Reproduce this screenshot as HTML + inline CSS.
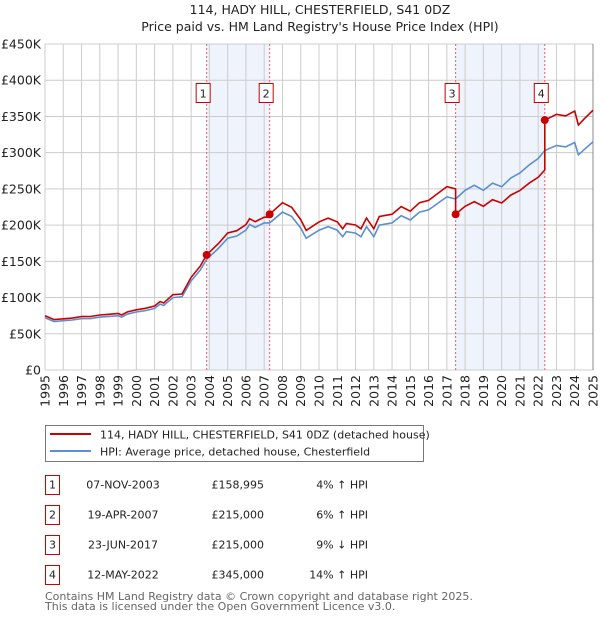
<!DOCTYPE html>
<html><head><meta charset="utf-8">
<style>
body{margin:0;background:#fff;font-family:"Liberation Sans","DejaVu Sans",sans-serif;}
svg text{font-family:"DejaVu Sans","Liberation Sans",sans-serif;}
</style></head>
<body>
<svg id="chart" width="600" height="620" viewBox="0 0 600 620" xmlns="http://www.w3.org/2000/svg">
<text x="320" y="14" font-size="12.5" text-anchor="middle" fill="#222">114, HADY HILL, CHESTERFIELD, S41 0DZ</text>
<text x="320" y="31" font-size="12.5" text-anchor="middle" fill="#222">Price paid vs. HM Land Registry's House Price Index (HPI)</text>
<g id="plot"></g>
<g>
<rect x="45.5" y="425.5" width="378" height="36" fill="#fff" stroke="#777"/>
<line x1="50" y1="434" x2="91" y2="434" stroke="#cc0000" stroke-width="2"/>
<text x="100" y="438.5" font-size="11" fill="#222">114, HADY HILL, CHESTERFIELD, S41 0DZ (detached house)</text>
<line x1="50" y1="451" x2="91" y2="451" stroke="#5b8fd0" stroke-width="2"/>
<text x="100" y="455.5" font-size="11" fill="#222">HPI: Average price, detached house, Chesterfield</text>
</g>
<g id="table" font-size="11" fill="#222"></g>
<text x="45" y="600" font-size="11" fill="#666">Contains HM Land Registry data © Crown copyright and database right 2025.</text>
<text x="45" y="610" font-size="11" fill="#666">This data is licensed under the Open Government Licence v3.0.</text>
</svg>
<script>
const hpiYears=[1995,1995.5,1996,1996.5,1997,1997.5,1998,1998.5,1999,1999.2,1999.5,2000,2000.5,2001,2001.3,2001.5,2002,2002.5,2003,2003.5,2003.85,2004.5,2005,2005.5,2006,2006.2,2006.5,2007,2007.3,2008,2008.5,2009,2009.3,2010,2010.5,2011,2011.3,2011.5,2012,2012.3,2012.6,2013,2013.3,2014,2014.5,2015,2015.5,2016,2016.5,2017,2017.48,2018,2018.5,2019,2019.5,2020,2020.5,2021,2021.5,2022,2022.36,2023,2023.5,2024,2024.2,2024.5,2025];
const hpiValues=[72,67,68,69,71,71,73,74,75,73,77,80,82,85,91,89,92,100,103,123,153,168,182,185,193,201,197,203,203,218,212,196,182,193,198,193,184,191,189,184,198,184,200,203,213,207,218,221,230,239,236,248,255,248,258,253,265,272,283,292,303,310,308,314,297,304,315];
hpiValues[18]=123;hpiValues[19]=138;hpiValues[17]=101;hpiValues[16]=100;
const saleDates=[2003.85,2007.3,2017.48,2022.36];
const salePrices=[158.995,215,215,345];
const saleLabels=["1","2","3","4"];
const saleDateText=["07-NOV-2003","19-APR-2007","23-JUN-2017","12-MAY-2022"];
const salePriceText=["£158,995","£215,000","£215,000","£345,000"];
const saleHpiText=["4% ↑ HPI","6% ↑ HPI","9% ↓ HPI","14% ↑ HPI"];
const yTicks=[0,50,100,150,200,250,300,350,400,450];
const yTickLabels=["£0","£50K","£100K","£150K","£200K","£250K","£300K","£350K","£400K","£450K"];
const xTicks=[1995,1996,1997,1998,1999,2000,2001,2002,2003,2004,2005,2006,2007,2008,2009,2010,2011,2012,2013,2014,2015,2016,2017,2018,2019,2020,2021,2022,2023,2024,2025];

const NS="http://www.w3.org/2000/svg";
const L=45,R=593,T=44,B=370;
const X=y=>L+(y-1995)/30*(R-L);
const Y=v=>B-v/450*(B-T);
function mk(tag,attrs,parent){const e=document.createElementNS(NS,tag);for(const k in attrs)e.setAttribute(k,attrs[k]);parent.appendChild(e);return e;}
const g=document.getElementById('plot');
function hpiAt(t){for(let i=0;i<hpiYears.length-1;i++){if(t<=hpiYears[i+1]){const f=(t-hpiYears[i])/(hpiYears[i+1]-hpiYears[i]);return hpiValues[i]+f*(hpiValues[i+1]-hpiValues[i]);}}return hpiValues[hpiValues.length-1];}
for(let i=0;i<saleDates.length;i+=2){
 const r=mk('rect',{x:X(saleDates[i]),y:T,width:X(saleDates[i+1])-X(saleDates[i]),height:B-T,fill:'#eef3fc'},g);
 
 
}
yTicks.forEach((v,i)=>{
 const l=mk('line',{x1:L,x2:R,y1:Y(v),y2:Y(v),stroke:'#ccc','stroke-width':1},g);
 
 
 const t=mk('text',{x:L-4,y:Y(v)+4.5,'font-size':12.5,'text-anchor':'end',fill:'#222'},g);
 
 
 t.textContent=yTickLabels[i];
});
xTicks.forEach(y=>{
 const l=mk('line',{x1:X(y),x2:X(y),y1:T,y2:B,stroke:'#ccc','stroke-width':1},g);
 
 
 const t=mk('text',{x:0,y:0,'font-size':12.5,'text-anchor':'end',fill:'#222',transform:`translate(${X(y)+4.5},${B+5}) rotate(-90)`},g);
 
 
 t.textContent=y;
});
const rb=mk('line',{x1:R,x2:R,y1:T,y2:B,stroke:'#888','stroke-width':1},g);


saleDates.forEach((d,i)=>{
 const l=mk('line',{x1:X(d),x2:X(d),y1:T,y2:B,stroke:'#e06070','stroke-width':1,'stroke-dasharray':'2,2'},g);
 
 
});
let hp=hpiYears.map((y,i)=>X(y).toFixed(1)+','+Y(hpiValues[i]).toFixed(1)).join(' ');
const hl=mk('polyline',{points:hp,fill:'none',stroke:'#5b8fd0','stroke-width':1.6},g);


const ratios=saleDates.map((d,i)=>salePrices[i]/hpiAt(d));
function redAt(t){let k=0;for(let i=0;i<saleDates.length;i++)if(t>=saleDates[i])k=i;return hpiAt(t)*ratios[k];}
let pts=[];
let times=hpiYears.slice();
saleDates.forEach(d=>{times.push(d-0.001);times.push(d);});
times.sort((a,b)=>a-b);
times.forEach(t=>pts.push(X(t).toFixed(1)+','+Y(redAt(t)).toFixed(1)));
const rl=mk('polyline',{points:pts.join(' '),fill:'none',stroke:'#cc0000','stroke-width':1.6},g);


saleDates.forEach((d,i)=>{
 const c=mk('circle',{cx:X(d),cy:Y(salePrices[i]),r:4,fill:'#cc0000'},g);
 
 
 const bx=mk('rect',{x:X(d)-10.5,y:83.5,width:14,height:19,fill:'#fff',stroke:'#cc0000'},g);
 
 
 const t=mk('text',{x:X(d)-3.5,y:97.5,'font-size':11,'text-anchor':'middle',fill:'#222'},g);
 
 
 t.textContent=saleLabels[i];
});
const tb=document.getElementById('table');
saleDates.forEach((d,i)=>{
 const y0=475+i*30;
 const r=mk('rect',{x:45.5,y:y0+0.5,width:14,height:19,fill:'#fff',stroke:'#cc0000'},tb);
 
 
 const a=mk('text',{x:52.5,y:y0+13.5,'text-anchor':'middle'},tb);a.textContent=saleLabels[i];
 
 
 const b=mk('text',{x:123,y:y0+13.5,'text-anchor':'middle'},tb);b.textContent=saleDateText[i];
 
 
 const c=mk('text',{x:264,y:y0+13.5,'text-anchor':'end'},tb);c.textContent=salePriceText[i];
 
 
 const e=mk('text',{x:368,y:y0+13.5,'text-anchor':'end'},tb);e.textContent=saleHpiText[i];
 
 
});
</script>
</body></html>
